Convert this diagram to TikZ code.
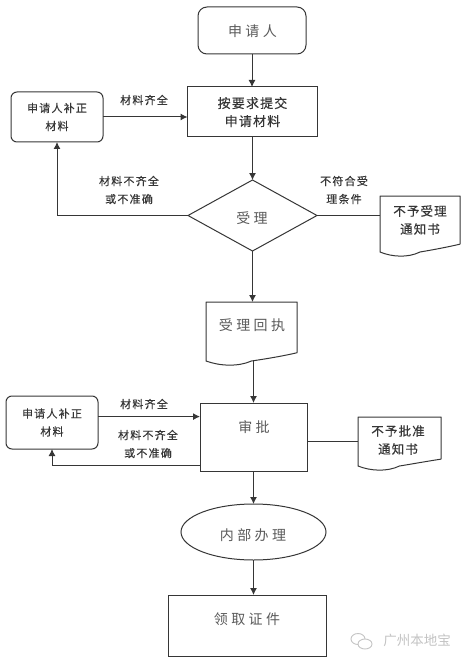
\documentclass[tikz,border=0pt]{standalone}
\usepackage{fontspec}
\setmainfont{Noto Sans CJK SC}
\newfontfamily\lblfont[LetterSpace=11,FakeBold=0.25]{Noto Sans CJK SC}
\newfontfamily\midfont[LetterSpace=9,FakeBold=0.25]{Noto Sans CJK SC}
\newfontfamily\bigfont[LetterSpace=24]{Noto Sans CJK SC}
\usetikzlibrary{arrows.meta,calc,shapes.geometric}
\definecolor{ink}{HTML}{363636}
\definecolor{soft}{HTML}{5A5A5A}
\definecolor{wmgray}{HTML}{C4C4C4}
\tikzset{
  every node/.style={inner sep=0pt,outer sep=0pt,align=center},
  lnk/.style={draw=ink,line width=1pt},
  arr/.style={lnk,-{Latex[length=7pt,width=7pt]}},
  boxed/.style={lnk,fill=white,rectangle},
  rbox/.style={lnk,fill=white,rectangle,rounded corners=6pt},
  lbl/.style={text=ink,font=\lblfont\fontsize{11}{18}\selectfont},
  midtxt/.style={text=ink,font=\midfont\fontsize{13}{18}\selectfont},
  doctxt/.style={text=ink,font=\midfont\fontsize{12.5}{18}\selectfont},
  bigtxt/.style={text=soft,font=\bigfont\fontsize{14}{18}\selectfont},
  docbox/.style={rectangle},
}
\newcommand{\docoutline}[1]{%
  \draw[lnk,line join=round] (#1.north west) -- (#1.north east)
    -- ($(#1.south east)!0.14!(#1.north east)$)
    .. controls ($(#1.south west)!.85!(#1.south east)+(0,-5)$) and ($(#1.south west)!.65!(#1.south east)+(0,-2)$) .. (#1.south)
    .. controls ($(#1.south west)!.35!(#1.south east)+(0,6)$) and ($(#1.south west)!.15!(#1.south east)+(0,5)$) .. (#1.south west)
    -- cycle;}
\begin{document}
\begin{tikzpicture}[x=1pt,y=-1pt]
\useasboundingbox (0,0) rectangle (470,663);
\fill[white] (0,0) rectangle (470,663);

\node[rbox,minimum width=108pt,minimum height=47pt,rounded corners=9pt] (app) at (252,30.5) {};
\node[bigtxt] (apptxt) at (252.5,31) {申请人};
\node[boxed,minimum width=130pt,minimum height=50pt,midtxt] (submit) at (252.5,112) {按要求提交\\申请材料};
\node[rbox,minimum width=92pt,minimum height=50pt,lbl] (fixa) at (57,117) {申请人补正\\材料};
\node[diamond,lnk,fill=white,minimum width=129pt,minimum height=71pt] (dia) at (252.5,215.5) {};
\node[bigtxt] (diatxt) at (252,218) {受理};
\node[docbox,minimum width=80pt,minimum height=56pt] (doca) at (420,224) {};
\docoutline{doca}
\node[doctxt] (docatxt) at (420,220) {不予受理\\通知书};
\node[docbox,minimum width=91pt,minimum height=59pt] (docb) at (251.5,331.5) {};
\docoutline{docb}
\node[bigtxt] (docbtxt) at (252,325) {受理回执};
\node[boxed,minimum width=107pt,minimum height=68pt] (appr) at (253.5,437) {};
\node[bigtxt] (apprtxt) at (254,427) {审批};
\node[rbox,minimum width=92pt,minimum height=53pt,lbl] (fixb) at (52,422.5) {申请人补正\\材料};
\node[docbox,minimum width=83pt,minimum height=49pt] (docc) at (399.5,441.5) {};
\docoutline{docc}
\node[doctxt] (docctxt) at (398,440) {不予批准\\通知书};
\node[ellipse,lnk,fill=white,minimum width=145pt,minimum height=56pt] (int) at (253.5,532) {};
\node[bigtxt] (inttxt) at (253,535) {内部办理};
\node[boxed,minimum width=158pt,minimum height=61pt] (recv) at (247,625.5) {};
\node[bigtxt] (recvtxt) at (247,619) {领取证件};

\coordinate (ra) at ($(appr.north west)!0.2!(appr.south west)$);
\coordinate (rb) at ($(appr.north west)!0.92!(appr.south west)$);
\coordinate (rc) at ($(appr.north east)!0.56!(appr.south east)$);

\draw[arr] (app.south) -- (app.south |- submit.north);
\draw[arr] (fixa.east) -- (fixa.east -| submit.west);
\draw[arr] (submit.south) -- (dia.north);
\draw[arr] (dia.west) -| (fixa.south);
\draw[lnk] (dia.east) -- (dia.east -| doca.west);
\draw[arr] (dia.south) -- (dia.south |- docb.north);
\draw[arr] (appr.north |- docb.south) -- (appr.north);
\draw[arr] (ra -| fixb.east) -- (ra);
\draw[arr] (rb) -| (fixb.south);
\draw[lnk] (rc) -- (rc -| docc.west);
\draw[arr] (appr.south) -- (int.north);
\draw[arr] (int.south) -- (int.south |- recv.north);

\node[lbl] (la) at (144,100) {材料齐全};
\node[lbl] (lb) at (129,190) {材料不齐全\\或不准确};
\node[lbl] (lc) at (344,190) {不符合受\\理条件};
\node[lbl] (ld) at (144,404) {材料齐全};
\node[lbl] (le) at (148,444) {材料不齐全\\或不准确};

\draw[wmgray,line width=0.9pt] (358,639) ellipse [x radius=7pt,y radius=5.5pt];
\draw[wmgray,line width=0.9pt,fill=white] (365,644) ellipse [x radius=7pt,y radius=5pt];
\node[text=wmgray,font=\fontsize{13.5}{16}\selectfont] (wm) at (417,640) {广州本地宝};
\end{tikzpicture}
\end{document}
